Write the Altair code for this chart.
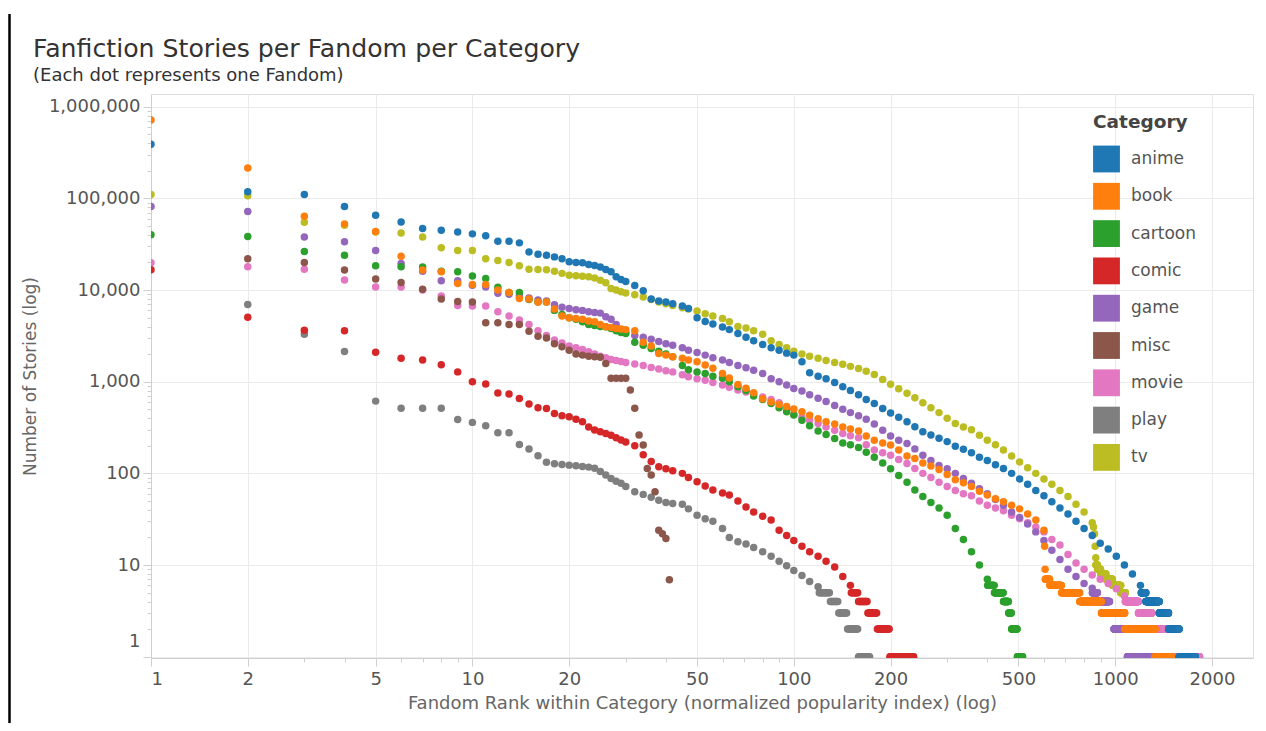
import altair as alt
import pandas as pd

CATEGORIES = ["anime", "book", "cartoon", "comic", "game", "misc", "movie", "play", "tv"]
COLORS = ["#1f77b4", "#ff7f0e", "#2ca02c", "#d62728", "#9467bd",
          "#8c564b", "#e377c2", "#7f7f7f", "#bcbd22"]
DRAW_ORDER = ["tv", "play", "movie", "misc", "game", "comic", "cartoon", "book", "anime"]

RANKS = [1, 2, 3, 4, 5, 6, 7, 8, 9, 10, 11, 12, 13, 14, 15, 16, 17, 18, 19, 20,
         21, 22, 23, 24, 25, 26, 27, 28, 29, 30,
         32, 34, 36, 38, 40, 42, 45, 47, 50, 53,
         56, 60, 63, 67, 71, 75, 80, 85, 90, 95,
         100, 106, 112, 119, 126, 134, 142, 150, 159, 168,
         178, 189, 200, 212, 225, 238, 252, 267, 283, 300,
         318, 337, 357, 378, 400, 424, 449, 476, 504, 534,
         566, 600, 635, 673, 713, 755, 800, 848, 898, 951,
         1008, 1068, 1131, 1198]

ANIME = [390000, 118000, 110000, 81500, 65600, 55400, 47000, 45000, 43000, 41000,
         39000, 34000, 34000, 32700, 26000, 24600, 24000, 23000, 22000, 20300,
         20000, 19800, 19000, 18500, 17800, 16800, 15800, 14000, 13000, 12400,
         11200, 9800, 8000, 7600, 7400, 7100, 6700, 6300, 5000, 4550,
         4250, 3950, 3700, 3350, 3050, 2800, 2550, 2350, 2200, 2050,
         1950, 1650, 1250, 1150, 1080, 980, 880, 800, 720, 640,
         580, 510, 455, 410, 365, 322, 285, 262, 242, 222,
         198, 183, 168, 150, 138, 124, 113, 100, 87, 76,
         65, 57, 49, 42, 36, 30, 25, 21, 17.3, 15,
         12.5, 10, 8, 6]
TV = [110000, 107000, 55000, 51000, 43000, 42000, 38000, 29000, 27000, 27000,
      22000, 21000, 20000, 18400, 16900, 16800, 16600, 16000, 15200, 14500,
      14300, 14100, 14000, 13500, 12800, 12000, 10400, 10000, 9600, 9300,
      8900, 8400, 7900, 7400, 7100, 6800, 6400, 6200, 5900, 5500,
      5200, 4900, 4500, 4000, 3850, 3600, 3300, 2800, 2550, 2350,
      2150, 2000, 1900, 1800, 1700, 1620, 1550, 1470, 1390, 1300,
      1200, 1060, 940, 840, 750, 670, 590, 520, 460, 400,
      350, 320, 300, 260, 230, 205, 180, 155, 133, 115,
      100, 87, 76, 65, 56, 46, 38, 29]
GAME = [81500, 72000, 38000, 33600, 27000, 19500, 16000, 12600, 12600, 11300,
        10800, 9200, 9000, 8600, 8200, 7800, 7600, 6900, 6500, 6300,
        6100, 6000, 5800, 5700, 5600, 5100, 4800, 4200, 3700, 3450,
        3200, 3050, 2900, 2750, 2600, 2500, 2350, 2200, 2080, 1950,
        1830, 1720, 1620, 1500, 1420, 1330, 1230, 1080, 1000, 920,
        845, 790, 720, 660, 610, 550, 500, 460, 425, 390,
        345, 295, 255, 230, 212, 185, 158, 138, 122, 112,
        100, 88, 78, 68, 60, 52, 45, 38, 33, 28,
        23, 18.5, 14.5, 11.5, 9, 7.5, 6.3, 5.6]
BOOK = [718000, 215000, 64000, 52700, 43500, 23400, 16500, 15800, 11800, 11500,
        11500, 10000, 9400, 8100, 8000, 7400, 7400, 6200, 5200, 5000,
        4900, 4800, 4600, 4500, 4200, 3970, 3900, 3800, 3750, 3700,
        3600, 2700, 2450, 2030, 1950, 1870, 1800, 1720, 1650, 1520,
        1400, 1230, 1100, 930, 850, 760, 650, 600, 565, 535,
        505, 470, 430, 395, 365, 345, 320, 305, 290, 255,
        230, 215, 204, 180, 155, 145, 130, 120, 110, 97,
        85, 79, 72, 64, 58, 53, 49, 45, 41, 36,
        31, 24]
CARTOON = [40000, 38400, 26400, 24000, 18400, 18000, 17800, 16000, 15800, 14200,
           13400, 10700, 9400, 9400, 7900, 7400, 7400, 6000, 5400, 5000,
           4800, 4500, 4200, 4100, 4000, 3970, 3800, 3600, 3450, 3360,
           2700, 2500, 2300, 2150, 2000, 1870, 1500, 1350, 1280, 1230,
           1150, 1090, 1000, 880, 800, 700, 640, 580, 520, 470,
           432, 380, 330, 290, 265, 240, 215, 205, 192, 170,
           150, 130, 112, 95, 80, 66, 56, 48, 42, 35,
           25, 19, 14, 10, 7]
COMIC = [16600, 5060, 3650, 3590, 2100, 1800, 1720, 1530, 1280, 1000,
         942, 751, 733, 656, 570, 520, 510, 451, 425, 414,
         390, 366, 320, 297, 285, 273, 260, 245, 231, 220,
         200, 160, 135, 118, 112, 107, 100, 90, 81, 73,
         66, 61, 58, 50, 43, 38, 34, 31, 24, 21,
         18.5, 16, 14, 12.5, 11, 9.5, 7.5, 6]
MISC = [None, 22000, 20000, 16500, 13200, 12100, 10200, 8000, 7500, 7400,
        4400, 4400, 4200, 4200, 3560, 3140, 3000, 2600, 2400, 2200,
        2000, 1950, 1900, 1870, 1850, 1580, 1090, 1090, 1090, 1090]
MOVIE = [19800, 17900, 16900, 12900, 10800, 10800, 10000, 8600, 6800, 6700,
         6700, 5800, 5200, 4700, 4200, 3600, 3200, 2850, 2650, 2450,
         2350, 2250, 2120, 2000, 1900, 1820, 1750, 1700, 1660, 1620,
         1560, 1500, 1430, 1380, 1320, 1280, 1190, 1130, 1080, 1040,
         980, 920, 870, 810, 770, 730, 680, 640, 590, 520,
         440, 410, 380, 350, 320, 295, 272, 258, 245, 205,
         180, 168, 158, 142, 128, 113, 100, 90, 80, 72,
         65, 60, 57, 50, 45, 42, 39, 35, 32, 29,
         26, 23, 19, 16.5, 13, 10.5, 9, 7.8, 7, 6.3,
         5.5, 4.6]
PLAY = [None, 6970, 3300, 2140, 614, 512, 512, 512, 388, 360,
        330, 277, 277, 207, 184, 156, 132, 127, 125, 123,
        121, 119, 117, 114, 105, 96, 88, 82, 78, 72,
        63, 59, 55, 51, 48, 47, 46, 41, 35, 32,
        30, 25, 20, 18, 17, 15.5, 14, 12.5, 11, 9.8,
        8.7, 7.7, 6.6, 5.8]

EXTRA = {
    "misc": [(31, 810), (32, 512), (33, 262), (34, 204), (35, 113), (36, 96),
             (37, 63), (38, 24), (39, 22), (40, 19.5), (41, 6.9)],
    "book": [(603, 16), (605, 9)],
    "tv": [(856, 26), (862, 22), (866, 16), (870, 12)],
}

# runs of consecutive fandoms sharing the same small story count: (stories, first rank, last rank)
RUNS = {
    "anime": [(5, 1205, 1245), (4, 1246, 1370), (3, 1371, 1465), (2, 1466, 1580), (1, 1581, 1775)],
    "tv": [(10, 871, 880), (9, 881, 900), (8, 901, 935), (7, 936, 980), (6, 981, 1040), (5, 1041, 1075)],
    "game": [(5, 849, 880), (4, 881, 960), (3, 961, 990), (2, 991, 1090), (1, 1091, 1300)],
    "book": [(7, 606, 625), (6, 626, 680), (5, 681, 775), (4, 776, 905), (3, 906, 1070),
             (2, 1071, 1330), (1, 1331, 1500)],
    "cartoon": [(6, 401, 420), (5, 421, 448), (4, 449, 465), (3, 466, 475), (2, 476, 495), (1, 496, 515)],
    "comic": [(5, 151, 158), (4, 159, 169), (3, 170, 181), (2, 182, 198), (1, 199, 236)],
    "movie": [(4, 1075, 1180), (3, 1181, 1300), (2, 1301, 1430), (1, 1431, 1830)],
    "play": [(5, 120, 129), (4, 130, 137), (3, 138, 146), (2, 147, 158), (1, 159, 172)],
    "misc": [],
}

SERIES = {"anime": ANIME, "book": BOOK, "cartoon": CARTOON, "comic": COMIC, "game": GAME,
          "misc": MISC, "movie": MOVIE, "play": PLAY, "tv": TV}

X_TICKS = [1, 2, 5, 10, 20, 50, 100, 200, 500, 1000, 2000]
X_MINOR = [3, 4, 6, 7, 8, 9, 30, 40, 60, 70, 80, 90, 300, 400, 600, 700, 800, 900]
Y_TICKS = [1, 10, 100, 1000, 10000, 100000, 1000000]
Y_MINOR = [2, 3, 4, 5, 6, 7, 8, 9, 20, 30, 40, 50, 60, 70, 80, 90,
           200, 300, 400, 500, 600, 700, 800, 900, 2000, 3000, 4000, 5000, 6000, 7000, 8000, 9000,
           20000, 30000, 40000, 50000, 60000, 70000, 80000, 90000,
           200000, 300000, 400000, 500000, 600000, 700000, 800000, 900000]

rows = []
for cat in DRAW_ORDER:
    for r, c in zip(RANKS, SERIES[cat]):
        if c is not None:
            rows.append({"rank": r, "stories": c, "category": cat})
    for r, c in EXTRA.get(cat, []):
        rows.append({"rank": r, "stories": c, "category": cat})
    for c, a, b in RUNS.get(cat, []):
        for r in range(a, b + 1):
            rows.append({"rank": r, "stories": c, "category": cat})
df = pd.DataFrame(rows)

FONT = "DejaVu Sans"
xscale = alt.Scale(type="log", domain=[1, 2683], nice=False)
yscale = alt.Scale(type="log", domain=[0.968, 1376000], nice=False)

points = alt.Chart(df).mark_circle(size=56, opacity=1, clip=True).encode(
    x=alt.X("rank:Q", scale=xscale,
            axis=alt.Axis(values=X_TICKS, format="d", title="Fandom Rank within Category (normalized popularity index) (log)",
                          grid=True, gridColor="#ebebeb", domainColor="#cfcfcf", tickColor="#cfcfcf",
                          tickSize=8, labelPadding=4, labelFlush=2, labelFontSize=18, labelFont=FONT,
                          labelColor="#555555", titleFont=FONT, titleFontSize=18, titleFontWeight="normal",
                          titleColor="#666666", titlePadding=6)),
    y=alt.Y("stories:Q", scale=yscale,
            axis=alt.Axis(values=Y_TICKS, format=",d", title="Number of Stories (log)",
                          grid=True, gridColor="#ebebeb", domainColor="#cfcfcf", tickColor="#cfcfcf",
                          tickSize=8, labelPadding=3, labelFlush=2, labelFlushOffset=-6, labelFontSize=18,
                          labelFont=FONT, labelColor="#555555", titleFont=FONT, titleFontSize=17,
                          titleFontWeight="normal", titleColor="#666666", titlePadding=9)),
    color=alt.Color("category:N", scale=alt.Scale(domain=CATEGORIES, range=COLORS),
                    legend=alt.Legend(title="Category", orient="none", legendX=942, legendY=19,
                                      symbolType="square", symbolSize=720, symbolStrokeWidth=0,
                                      symbolOpacity=1, labelFont=FONT, labelFontSize=17,
                                      labelColor="#555555", labelOffset=11, titleFont=FONT,
                                      titleFontSize=18.5, titleFontWeight="bold", titleColor="#444444",
                                      titlePadding=14, rowPadding=10.3, padding=0)),
)

minor = alt.Chart(df).mark_point(opacity=0).encode(
    x=alt.X("rank:Q", scale=xscale,
            axis=alt.Axis(orient="bottom", values=X_MINOR, labels=False, grid=False, domain=False,
                          ticks=True, tickSize=4, tickColor="#cfcfcf", title=None)),
    y=alt.Y("stories:Q", scale=yscale,
            axis=alt.Axis(orient="left", values=Y_MINOR, labels=False, grid=False, domain=False,
                          ticks=True, tickSize=4, tickColor="#cfcfcf", title=None)),
)

frame_line = alt.Chart(pd.DataFrame({"edge": ["left"]})).mark_rule(
    color="black", strokeWidth=2.5).encode(
    x=alt.value(-141.5), y=alt.value(-80), y2=alt.value(640))

chart = alt.layer(points, minor, frame_line).resolve_axis(x="independent", y="independent").properties(
    width=1102, height=564,
    autosize=alt.AutoSizeParams(type="none"),
    padding={"left": 143, "top": 86, "right": 5, "bottom": 65},
    title=alt.TitleParams(text="Fanfiction Stories per Fandom per Category",
                          subtitle="(Each dot represents one Fandom)",
                          anchor="start", frame="group", dx=-118, offset=-72,
                          font=FONT, fontSize=25.2, fontWeight="normal", color="#333333",
                          subtitleFont=FONT, subtitleFontSize=18, subtitleColor="#333333",
                          subtitlePadding=5),
).configure_view(stroke="#d9d9d9", strokeWidth=1).configure(background="white")

chart.save("out.html", embed_options={"renderer": "svg", "actions": False})
